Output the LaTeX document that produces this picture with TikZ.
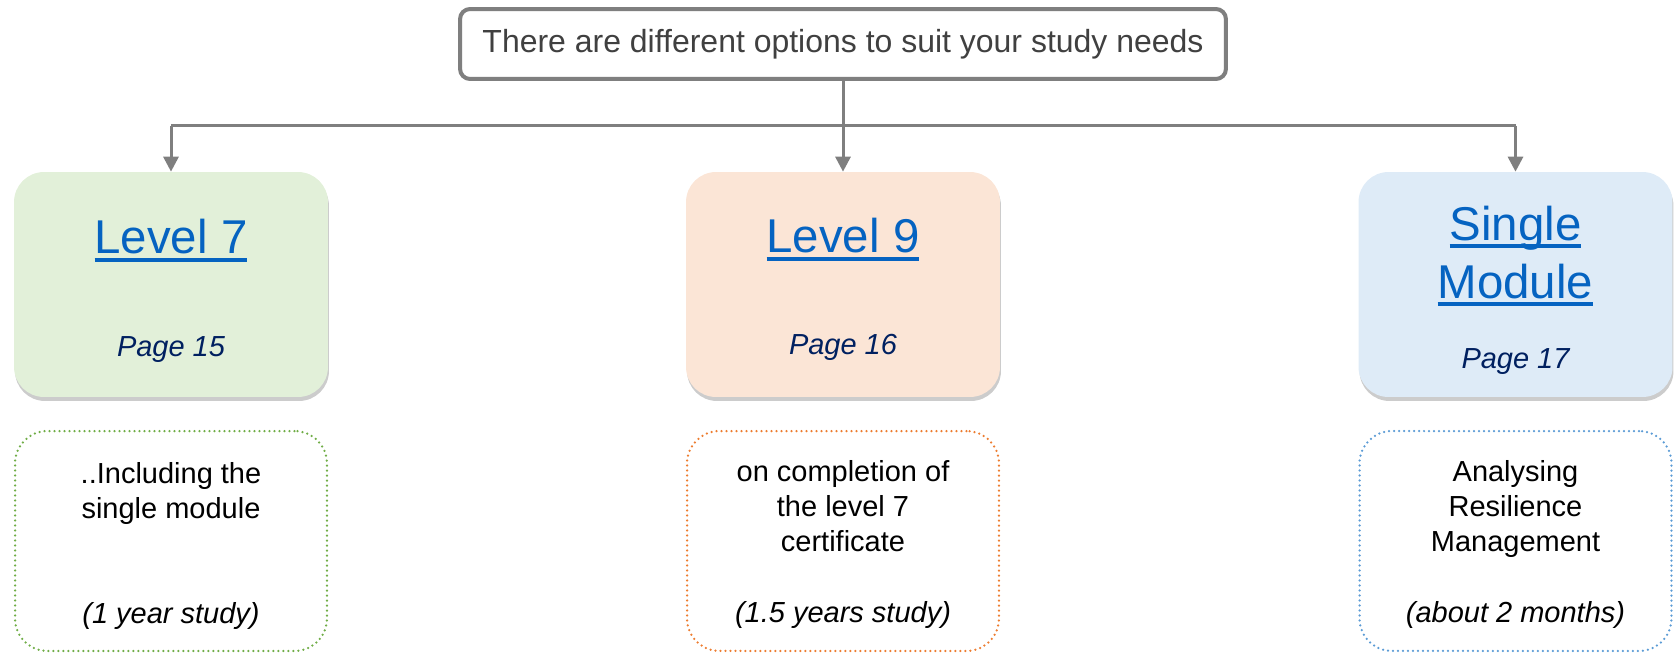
\documentclass[tikz,border=0pt]{standalone}
\usepackage{fontspec}
\setmainfont{Liberation Sans}
\usetikzlibrary{arrows.meta}
\usetikzlibrary{shadows}

\definecolor{linegray}{HTML}{7F7F7F}
\definecolor{textgray}{HTML}{404040}
\definecolor{linkblue}{HTML}{0563C1}
\definecolor{pagenavy}{HTML}{002060}
\definecolor{greenfill}{HTML}{E2F0D9}
\definecolor{orangefill}{HTML}{FBE5D6}
\definecolor{bluefill}{HTML}{DEEBF7}
\definecolor{greenline}{HTML}{70AD47}
\definecolor{orangeline}{HTML}{ED7D31}
\definecolor{blueline}{HTML}{5B9BD5}

\newcommand{\needsfont}{\fontsize{18.2}{22}\selectfont}
\newcommand{\levelfont}{\fontsize{27}{33}\selectfont}
\newcommand{\notefont}{\fontsize{16.5}{19.9}\selectfont}
\newcommand{\ulink}[1]{\setbox0\hbox{#1}\rlap{\rule[-4.5pt]{\wd0}{2.2pt}}\box0}

\begin{document}
\begin{tikzpicture}[x=0.02cm, y=-0.02cm,
	topbox/.style={draw=linegray, line width=0.08cm, rounded corners=0.2cm, fill=white,
		minimum width=15.32cm, minimum height=1.4cm, font=\needsfont, text=textgray},
	optbox/.style={rounded corners=0.6cm, minimum width=6.28cm, minimum height=4.5cm,
		drop shadow={shadow xshift=0.02cm, shadow yshift=-0.08cm, opacity=0.4}},
	notebox/.style={rounded corners=0.65cm, minimum width=6.24cm, minimum height=4.4cm,
		line width=0.05cm, line cap=round, dash pattern=on 0pt off 0.1cm},
	txt/.style={inner sep=0pt, anchor=base, align=center},
	lvl/.style={txt, font=\levelfont, text=linkblue},
	pg/.style={txt, font=\notefont\itshape, text=pagenavy},
	note/.style={txt, font=\notefont},
	conn/.style={line width=0.06cm, draw=linegray, -{Triangle[length=0.3cm, width=0.3cm]}}]

	\useasboundingbox (0,0) rectangle (1677,655);

	\node[topbox] (needs) at (843,44) {There are different options to suit your study needs};

	\node[optbox, fill=greenfill] (lvsev) at (171,284.5) {};
	\node[optbox, fill=orangefill] (lvnin) at (843,284.5) {};
	\node[optbox, fill=bluefill] (single) at (1515.5,284.5) {};

	\node[lvl] (lvsevtxt) at (171,254) {\ulink{Level 7}};
	\node[pg] (lvsevpg) at (171,357) {Page 15};
	\node[lvl] (lvnintxt) at (843,253) {\ulink{Level 9}};
	\node[pg] (lvninpg) at (843,355) {Page 16};
	\node[lvl] (singletxt) at (1515.5,298) {\ulink{Single}\\\ulink{Module}};
	\node[pg] (singlepg) at (1515.5,368) {Page 17};

	\node[notebox, draw=greenline] (lvsevnote) at (171,541) {};
	\node[notebox, draw=orangeline] (lvninnote) at (843,541) {};
	\node[notebox, draw=blueline] (singlenote) at (1515.5,541) {};

	\node[note] (lvsevdesc) at (171,518) {..Including the\\single module};
	\node[note, font=\notefont\itshape] (lvsevtime) at (171,623) {(1 year study)};
	\node[note] (lvnindesc) at (843,551) {on completion of\\the level 7\\certificate};
	\node[note, font=\notefont\itshape] (lvnintime) at (843,622) {(1.5 years study)};
	\node[note] (singledesc) at (1515.5,551) {Analysing\\Resilience\\Management};
	\node[note, font=\notefont\itshape] (singletime) at (1515.5,622) {(about 2 months)};

	\coordinate (split) at (843,126);
	\draw[conn] (needs) -- (lvnin);
	\draw[line width=0.06cm, draw=linegray] (lvsev.north |- split) -- (single.north |- split);
	\foreach \b in {lvsev, single}
		\draw[conn] (\b.north |- split) -- (\b.north);

\end{tikzpicture}
\end{document}
